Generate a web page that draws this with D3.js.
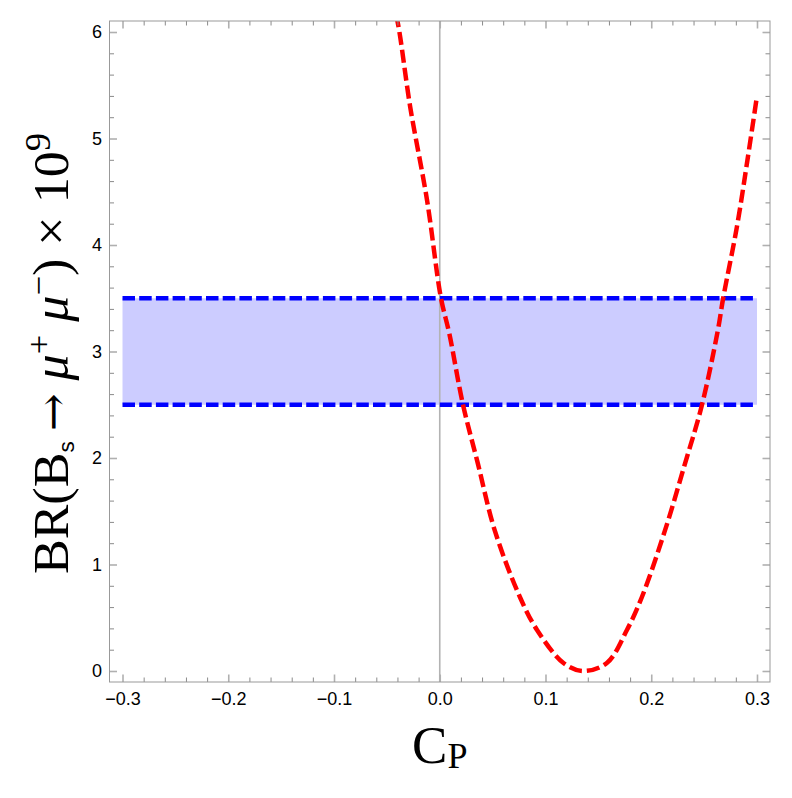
<!DOCTYPE html>
<html>
<head>
<meta charset="utf-8">
<script src="https://cdn.jsdelivr.net/npm/d3@7"></script>
<style>
  body { margin: 0; background: #fff; }
  svg { display: block; }
</style>
</head>
<body>
<svg id="chart" width="792" height="798"></svg>
<script>
// Values
const xTickValues = [-0.3, -0.2, -0.1, 0.0, 0.1, 0.2, 0.3];
const yTickValues = [0, 1, 2, 3, 4, 5, 6];
const bandCp = [-0.3, 0.3];        // extent of the shaded band
const bandBR = [2.5, 3.5];         // experimental band, lower / upper
const curveCp = [-0.045, -0.039, -0.028, -0.012, 0.001, 0.009, 0.022, 0.036, 0.052, 0.076, 0.092, 0.117, 0.135,
  0.158, 0.177, 0.191, 0.213, 0.232, 0.248, 0.263, 0.268, 0.281, 0.291, 0.300];
const curveBR = [6.33, 6.05, 5.30, 4.42, 3.51, 3.17, 2.50, 1.95, 1.32, 0.69, 0.385, 0.075, 0.0,
  0.075, 0.385, 0.69, 1.32, 1.95, 2.50, 3.20, 3.50, 4.17, 4.80, 5.40];

const svg = d3.select("svg#chart");
const frame = { left: 109.5, right: 770, top: 21, bottom: 682 };

// Mathematica style padding around the plot range
const x = d3.scaleLinear().domain([-0.3123, 0.3123]).range([frame.left, frame.right]);
const y = d3.scaleLinear().domain([-0.1034, 6.1034]).range([frame.bottom, frame.top]);

svg.append("defs").append("clipPath").attr("id", "plotClip")
  .append("rect")
  .attr("x", frame.left).attr("y", frame.top)
  .attr("width", frame.right - frame.left).attr("height", frame.bottom - frame.top);

const plot = svg.append("g").attr("clip-path", "url(#plotClip)");

// shaded band
plot.append("rect")
  .attr("x", x(bandCp[0]))
  .attr("y", y(bandBR[1]))
  .attr("width", x(bandCp[1]) - x(bandCp[0]))
  .attr("height", y(bandBR[0]) - y(bandBR[1]))
  .attr("fill", "#ccccff");

// vertical axis at Cp = 0
plot.append("line")
  .attr("x1", x(0)).attr("x2", x(0))
  .attr("y1", frame.top).attr("y2", frame.bottom)
  .attr("stroke", "#b3b3b3")
  .attr("stroke-width", 1.6);

// band edges
bandBR.forEach(v => {
  plot.append("line")
    .attr("x1", x(bandCp[0])).attr("x2", x(bandCp[1]))
    .attr("y1", y(v)).attr("y2", y(v))
    .attr("stroke", "#0000ff")
    .attr("stroke-width", 4.5)
    .attr("stroke-dasharray", "12.5,4.2");
});

// BR curve
const curvePoints = curveCp.map((c, i) => [c, curveBR[i]]);
const line = d3.line()
  .x(d => x(d[0]))
  .y(d => y(d[1]))
  .curve(d3.curveCatmullRom.alpha(0.5));

plot.append("path")
  .datum(curvePoints)
  .attr("d", line)
  .attr("fill", "none")
  .attr("stroke", "#ff0000")
  .attr("stroke-width", 4.5)
  .attr("stroke-dasharray", "13,5");

// Frame with ticks on all four sides
const majorLen = -7.5, minorLen = -4.5;
const xMinor = x.ticks(30).filter(t => !xTickValues.some(m => Math.abs(m - t) < 1e-9));
const yMinor = y.ticks(30).filter(t => !yTickValues.some(m => Math.abs(m - t) < 1e-9));

function styleAxis(g, major) {
  g.select(".domain").remove();
  g.selectAll(".tick line")
    .attr("stroke", major ? "#b0b0b0" : "#8a8a8a")
    .attr("stroke-width", major ? 1.6 : 1);
  g.selectAll(".tick text")
    .attr("fill", "#000")
    .style("font-family", "'Liberation Sans', Arial, sans-serif")
    .style("font-size", "18px");
}

svg.append("g").attr("transform", `translate(0,${frame.bottom})`)
  .call(d3.axisBottom(x).tickValues(xMinor).tickSize(minorLen).tickFormat(""))
  .call(g => styleAxis(g, false));
svg.append("g").attr("transform", `translate(0,${frame.bottom})`)
  .call(d3.axisBottom(x).tickValues(xTickValues).tickSize(majorLen).tickPadding(10).tickFormat(d3.format(".1f")))
  .call(g => styleAxis(g, true));
svg.append("g").attr("transform", `translate(0,${frame.top})`)
  .call(d3.axisTop(x).tickValues(xMinor).tickSize(minorLen).tickFormat(""))
  .call(g => styleAxis(g, false));
svg.append("g").attr("transform", `translate(0,${frame.top})`)
  .call(d3.axisTop(x).tickValues(xTickValues).tickSize(majorLen).tickFormat(""))
  .call(g => styleAxis(g, true));

svg.append("g").attr("transform", `translate(${frame.left},0)`)
  .call(d3.axisLeft(y).tickValues(yMinor).tickSize(minorLen).tickFormat(""))
  .call(g => styleAxis(g, false));
svg.append("g").attr("transform", `translate(${frame.left},0)`)
  .call(d3.axisLeft(y).tickValues(yTickValues).tickSize(majorLen).tickPadding(7.5).tickFormat(d3.format("d")))
  .call(g => styleAxis(g, true));
svg.append("g").attr("transform", `translate(${frame.right},0)`)
  .call(d3.axisRight(y).tickValues(yMinor).tickSize(minorLen).tickFormat(""))
  .call(g => styleAxis(g, false));
svg.append("g").attr("transform", `translate(${frame.right},0)`)
  .call(d3.axisRight(y).tickValues(yTickValues).tickSize(majorLen).tickFormat(""))
  .call(g => styleAxis(g, true));

svg.append("rect")
  .attr("x", frame.left).attr("y", frame.top)
  .attr("width", frame.right - frame.left).attr("height", frame.bottom - frame.top)
  .attr("fill", "none")
  .attr("stroke", "#999")
  .attr("stroke-width", 1);

// Axis labels
const serif = "'Liberation Serif', 'Times New Roman', serif";

const xLabel = svg.append("text")
  .attr("x", (frame.left + frame.right) / 2)
  .attr("y", 763)
  .attr("text-anchor", "middle")
  .style("font-family", serif)
  .style("font-size", "53px");
xLabel.append("tspan").text("C");
xLabel.append("tspan").attr("dy", 5).style("font-size", "36px").text("P");

const yLabel = svg.append("text")
  .attr("transform", `translate(68,${(frame.top + frame.bottom) / 2 + 2}) rotate(-90) scale(1.02,1)`)
  .attr("text-anchor", "middle")
  .style("font-family", serif)
  .style("font-size", "51px");
yLabel.append("tspan").text("BR(B");
yLabel.append("tspan").attr("dy", 6)
  .style("font-family", "'Liberation Sans', Arial, sans-serif").style("font-size", "22px").text("s");
yLabel.append("tspan").attr("dy", -6).text("\u2009");
yLabel.append("tspan").style("font-family", "'DejaVu Serif', serif").style("font-size", "44px").text("\u2192");
yLabel.append("tspan").text(" ");
yLabel.append("tspan").style("font-style", "italic").text("\u03bc");
yLabel.append("tspan").attr("dy", -18).style("font-size", "34px").text("+");
yLabel.append("tspan").attr("dy", 18).text(" ");
yLabel.append("tspan").style("font-style", "italic").text("\u03bc");
yLabel.append("tspan").attr("dy", -18).style("font-size", "34px").text("\u2212");
yLabel.append("tspan").attr("dy", 18).text(") \u00d7 10");
yLabel.append("tspan").attr("dy", -18).style("font-size", "36px").text("9");
</script>
</body>
</html>
